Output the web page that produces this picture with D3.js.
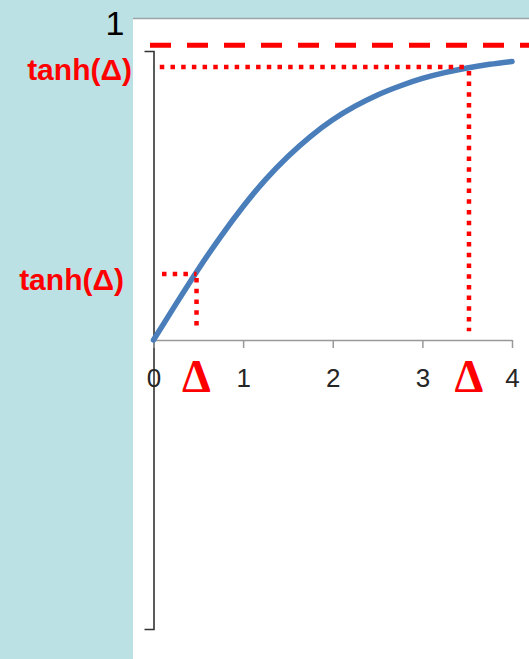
<!DOCTYPE html>
<html><head><meta charset="utf-8">
<script src="https://cdn.jsdelivr.net/npm/d3@7"></script>
<style>body{margin:0;background:#bce1e4;} svg{display:block;}</style>
</head><body>
<script>
// curve values
const xValues = [0, 0.25, 0.5, 0.75, 1, 1.25, 1.5, 1.75, 2, 2.25, 2.5, 2.75, 3, 3.25, 3.5, 3.75, 4];
const yValues = [0, 0.124, 0.245, 0.358, 0.462, 0.555, 0.635, 0.704, 0.762, 0.809, 0.848, 0.879, 0.905, 0.925, 0.941, 0.954, 0.964];
const xTicks = [0, 1, 2, 3, 4];
const tickLabels = ["0", "1", "2", "3", "4"];
// annotations
const deltas = [0.48, 3.52];
const tanhValues = [0.228, 0.945];
const hStarts = [0.095, 0.07];
const vEnd = 0.03;
const limitValue = 1.02;
const annotationLabels = ["tanh(\u0394)", "\u0394", "1"];

const W = 529, H = 659;
const svg = d3.select("body").append("svg").attr("width", W).attr("height", H);
svg.append("rect").attr("width", W).attr("height", H).attr("fill", "#bce1e4");
svg.append("rect").attr("x", 133).attr("y", 18).attr("width", W - 133).attr("height", H - 18).attr("fill", "#fff");
svg.append("line").attr("x1", 133).attr("x2", W).attr("y1", 18.5).attr("y2", 18.5).attr("stroke", "#9aa3a6").attr("stroke-width", 1.5);

const x = d3.scaleLinear().domain([0, 4]).range([153.5, 512]);
const y = d3.scaleLinear().domain([-1, 1]).range([629, 51]);

// y axis
const ya = svg.append("g").attr("transform", `translate(${x(0)},0)`)
  .call(d3.axisLeft(y).tickValues([]).tickSizeOuter(9));
ya.select(".domain").attr("stroke", "#333").attr("stroke-width", 1.6);

// x axis
const xa = svg.append("g").attr("transform", `translate(0,${y(0)})`)
  .call(d3.axisBottom(x).tickValues(xTicks).tickSize(8).tickSizeOuter(0).tickFormat((d, i) => tickLabels[i]));
xa.select(".domain").attr("stroke", "#999").attr("stroke-width", 1.5);
xa.selectAll(".tick line").attr("stroke", "#999").attr("stroke-width", 1.5);
xa.selectAll(".tick text").attr("y", 47).attr("dy", 0)
  .attr("font-family", "'Liberation Sans Narrow', 'Liberation Sans', sans-serif")
  .attr("font-size", 26).attr("fill", "#262626");

// curve
const pts = xValues.map((v, i) => [v, yValues[i]]);
svg.append("path").datum(pts)
  .attr("d", d3.line().x(d => x(d[0])).y(d => y(d[1])).curve(d3.curveNatural))
  .attr("fill", "none").attr("stroke", "#4a7ebb").attr("stroke-width", 5.5).attr("stroke-linecap", "round");

// dashed limit line
svg.append("line").attr("x1", 150).attr("x2", W).attr("y1", y(limitValue)).attr("y2", y(limitValue))
  .attr("stroke", "#ff0000").attr("stroke-width", 5).attr("stroke-dasharray", "21 16");

// dotted guides
const red = "#ff0000";
deltas.forEach((dv, i) => {
  svg.append("line").attr("x1", x(hStarts[i])).attr("x2", x(dv)).attr("y1", y(tanhValues[i])).attr("y2", y(tanhValues[i]))
    .attr("stroke", red).attr("stroke-width", 4.5).attr("stroke-dasharray", "4.5 6.2");
  svg.append("line").attr("x1", x(dv)).attr("x2", x(dv)).attr("y1", y(tanhValues[i]) + 4).attr("y2", y(vEnd))
    .attr("stroke", red).attr("stroke-width", 4.5).attr("stroke-dasharray", "4.5 6.2");
  // delta label under axis
  svg.append("text").attr("x", x(dv)).attr("y", 392).attr("text-anchor", "middle")
    .attr("font-family", "'Liberation Serif', serif").attr("font-weight", "bold").attr("font-size", 46).attr("fill", red)
    .text(annotationLabels[1]);
});

// tanh labels
svg.append("text").attr("x", 132).attr("y", 80).attr("text-anchor", "end")
  .attr("font-family", "'Liberation Sans', Arial, sans-serif").attr("font-weight", "bold")
  .attr("font-size", 30).attr("fill", red).text(annotationLabels[0]);
svg.append("text").attr("x", 124).attr("y", 290).attr("text-anchor", "end")
  .attr("font-family", "'Liberation Sans', Arial, sans-serif").attr("font-weight", "bold")
  .attr("font-size", 30).attr("fill", red).text(annotationLabels[0]);

// "1" label
svg.append("text").attr("x", 115).attr("y", 35).attr("text-anchor", "middle")
  .attr("font-family", "'Liberation Sans', Arial, sans-serif").attr("font-size", 34).attr("fill", "#000")
  .text(annotationLabels[2]);
</script>
</body></html>
